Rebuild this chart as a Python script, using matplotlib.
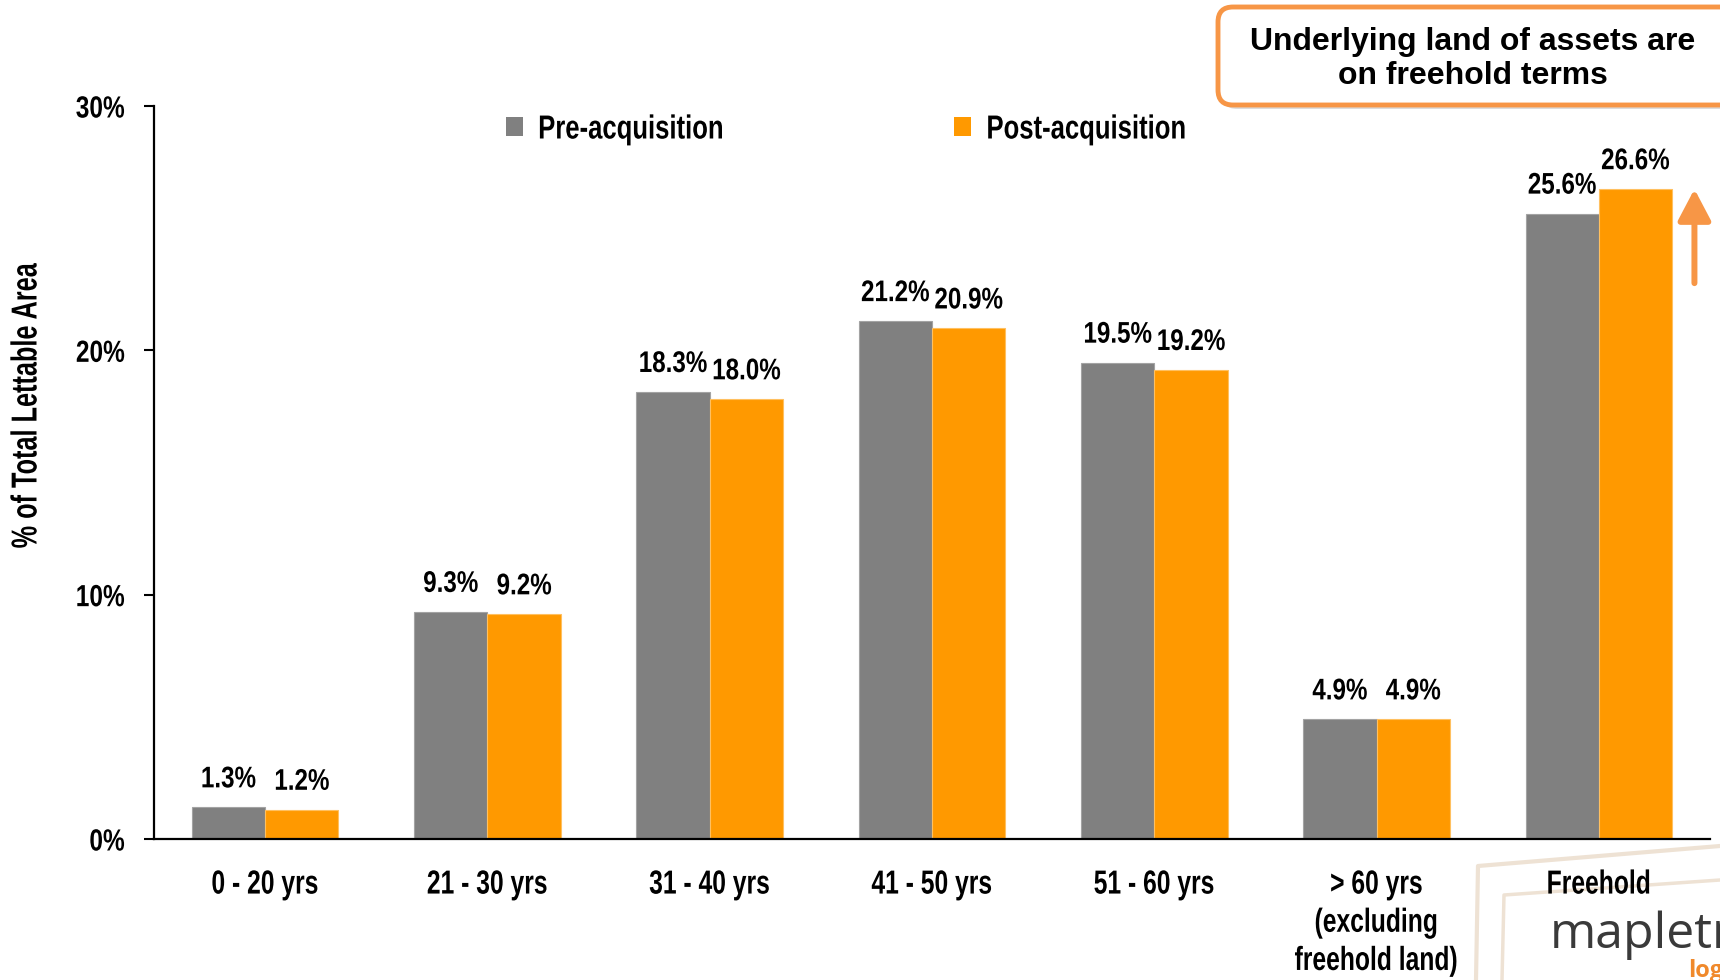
import numpy as np
import matplotlib
matplotlib.use('Agg')
import matplotlib.pyplot as plt
from matplotlib.patches import FancyBboxPatch, Patch
from matplotlib.lines import Line2D
from matplotlib.patheffects import AbstractPathEffect
from matplotlib.transforms import Affine2D

# chart data
categories = ['0 - 20 yrs', '21 - 30 yrs', '31 - 40 yrs', '41 - 50 yrs', '51 - 60 yrs',
              '> 60 yrs\n(excluding\nfreehold land)', 'Freehold']
pre_acq = [1.3, 9.3, 18.3, 21.2, 19.5, 4.9, 25.6]
post_acq = [1.2, 9.2, 18.0, 20.9, 19.2, 4.9, 26.6]
series_names = ['Pre-acquisition', 'Post-acquisition']
y_ticks = [0, 10, 20, 30]
callout_text = 'Underlying land of assets are\non freehold terms'

GREY = '#808080'
ORANGE = '#FF9900'
CALLOUT = '#F79646'

plt.rcParams['font.family'] = ['Liberation Sans', 'DejaVu Sans']
plt.rcParams['font.weight'] = 'bold'

W, H = 1720, 980


def fx(px):
    return px / W


def fy(py):
    return 1 - py / H


class Squeeze(AbstractPathEffect):
    # no narrow font installed, so squeeze the glyphs horizontally
    def __init__(self, sx=0.8, anchor='center'):
        super().__init__()
        self.sx = sx
        self.anchor = anchor

    def draw_path(self, renderer, gc, tpath, affine, rgbFace=None):
        ext = tpath.get_extents()
        if self.anchor == 'center':
            x0 = (ext.x0 + ext.x1) / 2
        elif self.anchor == 'right':
            x0 = ext.x1
        else:
            x0 = ext.x0
        t = Affine2D().translate(-x0, 0).scale(self.sx, 1).translate(x0, 0) + affine
        renderer.draw_path(gc, tpath, t, rgbFace)


fig = plt.figure(figsize=(W / 100, H / 100), dpi=100)
ax = fig.add_axes([fx(154), fy(839), fx(1710) - fx(154), fy(106) - fy(839)])

x = np.arange(len(categories))
bw = 0.33
b1 = ax.bar(x - bw / 2, pre_acq, bw, color=GREY, edgecolor='#A3A3A3', linewidth=0.8)
b2 = ax.bar(x + bw / 2, post_acq, bw, color=ORANGE, edgecolor='#FFC060', linewidth=0.8)

# value labels above bars
for bars, vals in ((b1, pre_acq), (b2, post_acq)):
    for rect, v in zip(bars, vals):
        ax.annotate(f'{v:.1f}%', (rect.get_x() + rect.get_width() / 2, v),
                    xytext=(0, 10), textcoords='offset points',
                    ha='center', va='bottom', fontsize=21.5, fontweight='bold',
                    path_effects=[Squeeze(0.81)])

ax.set_xlim(-0.5, len(categories) - 0.5)
ax.set_ylim(0, 30)
ax.set_yticks(y_ticks)
ax.set_yticklabels([f'{t}%' for t in y_ticks])
ax.set_xticks(x)
ax.set_xticklabels(categories)
ax.tick_params(axis='y', length=7, width=1.5, pad=14, labelsize=22)
ax.tick_params(axis='x', length=0, pad=22, labelsize=24)
plt.setp(ax.get_yticklabels(), path_effects=[Squeeze(0.8, 'right')])
plt.setp(ax.get_xticklabels(), path_effects=[Squeeze(0.74)], linespacing=1.3)
for s in ('top', 'right'):
    ax.spines[s].set_visible(False)
for s in ('left', 'bottom'):
    ax.spines[s].set_linewidth(1.6)

fig.text(fx(27), fy(406), '% of Total Lettable Area', rotation=90,
         ha='center', va='center', fontsize=26, fontweight='bold',
         path_effects=[Squeeze(0.7)])

# legend
handles = [Patch(facecolor=GREY), Patch(facecolor=ORANGE)]
leg = ax.legend(handles, series_names, ncol=2, frameon=False, loc='center left',
                bbox_to_anchor=(fx(506), fy(130)), bbox_transform=fig.transFigure,
                fontsize=24, handlelength=0.5, handleheight=0.5, handletextpad=0.45,
                columnspacing=5.25, borderpad=0, borderaxespad=0)
plt.setp(leg.get_texts(), path_effects=[Squeeze(0.77, 'left')])

# increase arrow next to freehold bars
ax.annotate('', xy=(6.43, post_acq[-1]), xytext=(6.43, post_acq[-1] - 3.85),
            arrowprops=dict(arrowstyle='-|>,head_length=0.95,head_width=0.5',
                            mutation_scale=20, color=CALLOUT, lw=4.3,
                            shrinkA=0, shrinkB=0),
            annotation_clip=False)

# callout box (inch coords)
inch = fig.dpi_scale_trans
shadow = FancyBboxPatch((12.22, (H - 109) / 100), 5.4, 0.98,
                        boxstyle='round,pad=0,rounding_size=0.15',
                        transform=inch, facecolor='#BBBBBB', edgecolor='none',
                        alpha=0.5, zorder=3)
box = FancyBboxPatch((12.18, (H - 105) / 100), 5.4, 0.98,
                     boxstyle='round,pad=0,rounding_size=0.15',
                     transform=inch, facecolor='white', edgecolor=CALLOUT,
                     linewidth=3.5, zorder=4)
fig.add_artist(shadow)
fig.add_artist(box)
fig.text(fx(1473), fy(59), callout_text, ha='center', va='center',
         fontsize=23, fontweight='bold', linespacing=1.2, zorder=5)

# partially visible logo at bottom right
frame_col = '#EEE2D4'
fig.add_artist(Line2D([fx(1476), fx(1478), fx(1720)], [fy(980), fy(866), fy(846)],
                      transform=fig.transFigure, color=frame_col, lw=3, zorder=-1))
fig.add_artist(Line2D([fx(1502), fx(1504), fx(1720)], [fy(980), fy(895), fy(880)],
                      transform=fig.transFigure, color=frame_col, lw=2.5, zorder=-1))
fig.text(fx(1550), fy(948), 'mapletree', ha='left', va='baseline', fontsize=36,
         fontweight='normal', color='#3A3A3A', family=['Open Sans', 'DejaVu Sans'], zorder=-1)
fig.text(fx(1688), fy(977), 'logistics', ha='left', va='baseline', fontsize=17,
         fontweight='bold', color='#F0892B', family=['Open Sans', 'DejaVu Sans'], zorder=-1)

fig.savefig('out.png', dpi=100)
